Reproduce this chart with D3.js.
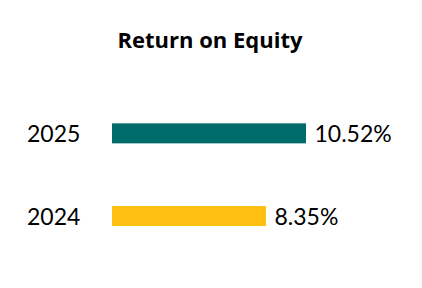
<!DOCTYPE html>
<html>
<head>
<meta charset="utf-8">
<script src="https://cdn.jsdelivr.net/npm/d3@7/dist/d3.min.js"></script>
<style>
  html, body { margin: 0; padding: 0; background: #fff; }
  svg { display: block; }
  text { font-family: Lato, "Open Sans", sans-serif; fill: #000; }
</style>
</head>
<body>
<svg id="chart" width="422" height="288"></svg>
<script>
const title = "Return on Equity";
const categories = ["2025", "2024"];
const values = [10.52, 8.35];
const colors = ["#006B6B", "#FFC012"];
const valueLabels = ["10.52%", "8.35%"];

const svg = d3.select("#chart");

const x = d3.scaleLinear().domain([0, 10.52]).range([112, 306]);
const y = d3.scaleBand().domain(categories).range([82, 267.4]).paddingInner(0.758).paddingOuter(0.5);

svg.append("text")
  .attr("x", 210).attr("y", 47.7)
  .attr("text-anchor", "middle")
  .style("font-family", "'Open Sans', sans-serif")
  .style("font-weight", "bold")
  .style("font-size", "22px")
  .text(title);

const rows = categories.map((c, i) => ({ c, v: values[i], col: colors[i], lab: valueLabels[i] }));

svg.selectAll("rect.bar").data(rows).join("rect")
  .attr("class", "bar")
  .attr("x", x(0))
  .attr("y", d => y(d.c))
  .attr("width", d => x(d.v) - x(0))
  .attr("height", y.bandwidth())
  .attr("fill", d => d.col);

svg.selectAll("text.cat").data(rows).join("text")
  .attr("class", "cat")
  .attr("x", 27)
  .attr("y", d => y(d.c) + y.bandwidth() / 2 + 9)
  .attr("font-size", 23)
  .text(d => d.c);

svg.selectAll("text.val").data(rows).join("text")
  .attr("class", "val")
  .attr("x", d => x(d.v) + 8.5)
  .attr("y", d => y(d.c) + y.bandwidth() / 2 + 9)
  .attr("font-size", 23)
  .text(d => d.lab);
</script>
</body>
</html>
